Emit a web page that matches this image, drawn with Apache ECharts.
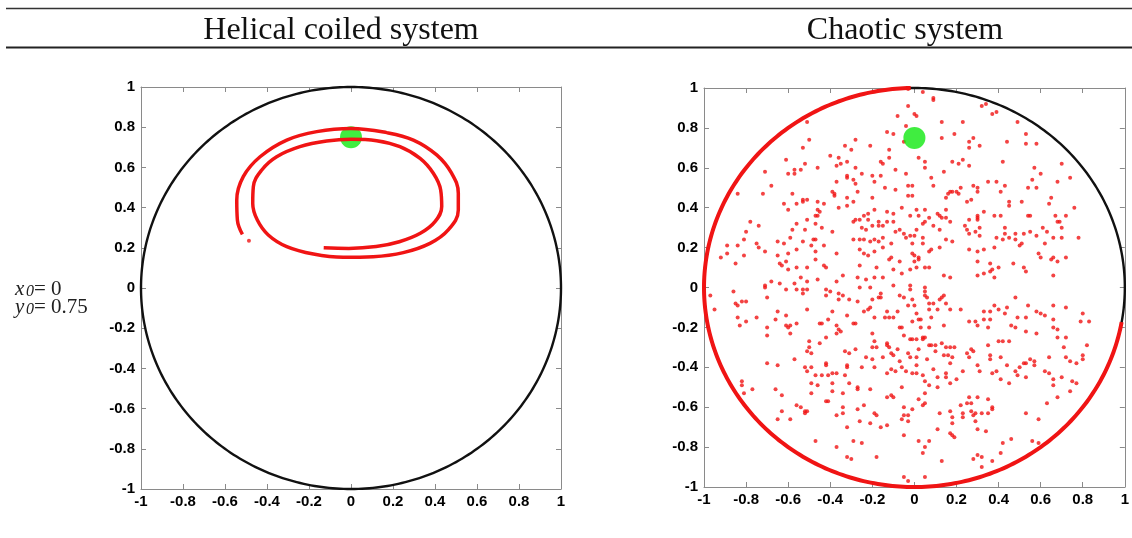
<!DOCTYPE html>
<html>
<head>
<meta charset="utf-8">
<script src="https://cdn.jsdelivr.net/npm/echarts@6/dist/echarts.min.js"></script>
<style>
  html, body { margin: 0; padding: 0; background: #fff; }
  #chart { width: 1132px; height: 538px; }
</style>
</head>
<body>
<div id="chart"></div>
<script>
// Two MATLAB-style phase portraits side by side: helical coil vs chaotic.
const panelTitles = ['Helical coiled system', 'Chaotic system'];
const initialX = 0;
const initialY = 0.75;
const startPoint = [initialX, initialY];

// unit circle boundary: [cx, cy, r, startDeg, endDeg]
const boundaryCircle = [[0, 0, 1, 0, 360]];
// part of the boundary covered by red points in the chaotic panel
const chaoticRingArc = [[0, 0, 1, 91, 350]];

// helical trajectory, in drawing order
const helicalPath = [
  [-0.13, 0.20], [-0.01, 0.197], [0.12, 0.206], [0.23, 0.23], [0.33, 0.272], [0.40, 0.33],
  [0.432, 0.405], [0.427, 0.488], [0.392, 0.571], [0.329, 0.645], [0.233, 0.703], [0.122, 0.733],
  [0.0, 0.74], [-0.116, 0.731], [-0.243, 0.703], [-0.354, 0.653], [-0.425, 0.587], [-0.465, 0.504],
  [-0.468, 0.421], [-0.446, 0.338], [-0.394, 0.264], [-0.306, 0.206], [-0.179, 0.169], [-0.037, 0.153],
  [0.106, 0.156], [0.249, 0.176], [0.376, 0.222], [0.463, 0.289], [0.511, 0.388], [0.511, 0.471],
  [0.479, 0.571], [0.408, 0.662], [0.297, 0.736], [0.17, 0.773], [0.0, 0.794], [-0.163, 0.778],
  [-0.306, 0.736], [-0.433, 0.653], [-0.513, 0.554], [-0.544, 0.438], [-0.541, 0.338], [-0.517, 0.267]
];
const helicalStray = [[-0.486, 0.235]];

// chaotic scatter, one array per quadrant
const chaoticUpperLeft = [
  [-0.03,0.995],[-0.03,0.91],[-0.08,0.86],[-0.04,0.81],[-0.10,0.77],[-0.13,0.78],[-0.05,0.73],[-0.51,0.83],
  [-0.50,0.74],[-0.53,0.70],[-0.33,0.71],[-0.28,0.74],[-0.21,0.71],[-0.12,0.69],[-0.30,0.69],[-0.40,0.66],
  [-0.36,0.65],[-0.61,0.64],[-0.52,0.62],[-0.54,0.59],[-0.57,0.59],[-0.57,0.57],[-0.60,0.57],[-0.46,0.60],
  [-0.37,0.61],[-0.35,0.62],[-0.32,0.63],[-0.28,0.60],[-0.25,0.57],[-0.20,0.56],[-0.16,0.63],[-0.15,0.62],
  [-0.12,0.65],[-0.09,0.59],[-0.04,0.57],[-0.16,0.56],[-0.32,0.56],[-0.32,0.55],[-0.29,0.54],[-0.28,0.52],
  [-0.19,0.53],[-0.37,0.53],[-0.27,0.48],[-0.39,0.48],[-0.38,0.47],[-0.38,0.46],[-0.20,0.45],[-0.14,0.50],
  [-0.09,0.49],[-0.03,0.51],[-0.03,0.46],[-0.71,0.58],[-0.68,0.51],[-0.72,0.47],[-0.84,0.47],[-0.58,0.47],
  [-0.53,0.44],[-0.51,0.44],[-0.53,0.43],[-0.56,0.42],[-0.62,0.42],[-0.60,0.39],[-0.46,0.43],[-0.43,0.42],
  [-0.46,0.39],[-0.45,0.38],[-0.47,0.36],[-0.46,0.36],[-0.32,0.45],[-0.29,0.43],[-0.36,0.40],[-0.32,0.41],
  [-0.19,0.39],[-0.22,0.37],[-0.13,0.38],[-0.10,0.37],[-0.06,0.40],[-0.02,0.36],[-0.78,0.33],[-0.80,0.28],
  [-0.74,0.31],[-0.81,0.24],[-0.84,0.21],[-0.89,0.21],[-0.89,0.17],[-0.92,0.15],[-0.85,0.12],[-0.81,0.16],
  [-0.75,0.22],[-0.74,0.20],[-0.71,0.18],[-0.65,0.23],[-0.62,0.22],[-0.56,0.32],[-0.58,0.29],[-0.59,0.25],
  [-0.52,0.29],[-0.51,0.34],[-0.47,0.32],[-0.44,0.30],[-0.48,0.24],[-0.47,0.24],[-0.53,0.23],[-0.49,0.21],
  [-0.43,0.21],[-0.39,0.28],[-0.47,0.18],[-0.56,0.19],[-0.60,0.17],[-0.64,0.12],[-0.65,0.16],[-0.63,0.11],
  [-0.61,0.13],[-0.60,0.09],[-0.56,0.10],[-0.51,0.10],[-0.47,0.14],[-0.43,0.11],[-0.42,0.10],[-0.37,0.17],
  [-0.29,0.33],[-0.28,0.34],[-0.26,0.34],[-0.24,0.36],[-0.22,0.34],[-0.25,0.30],[-0.23,0.29],[-0.20,0.31],
  [-0.17,0.33],[-0.17,0.31],[-0.15,0.31],[-0.13,0.33],[-0.10,0.33],[-0.09,0.28],[-0.07,0.29],[-0.05,0.27],
  [-0.04,0.25],[-0.02,0.26],[-0.29,0.24],[-0.26,0.24],[-0.24,0.24],[-0.21,0.23],[-0.19,0.24],[-0.17,0.23],
  [-0.15,0.25],[-0.11,0.22],[-0.15,0.20],[-0.26,0.19],[-0.24,0.17],[-0.22,0.16],[-0.19,0.18],[-0.12,0.14],
  [-0.11,0.15],[-0.07,0.13],[-0.01,0.17],[-0.02,0.09],[-0.10,0.09],[-0.18,0.10],[-0.26,0.11],[-0.23,0.04],
  [-0.27,0.05],[-0.34,0.06],[-0.37,0.03],[-0.46,0.04],[-0.54,0.05],[-0.57,0.02],[-0.64,0.02],[-0.68,0.03],
  [-0.71,0.01],[-0.51,0.03],[-0.15,0.05],[-0.06,0.07],[-0.19,0.05],[-0.10,0.01],[-0.02,0.01]
];
const chaoticUpperRight = [
  [0.04,0.98],[0.09,0.95],[0.09,0.94],[0.00,0.87],[0.01,0.86],[0.32,0.91],[0.34,0.92],[0.37,0.87],
  [0.39,0.88],[0.13,0.83],[0.23,0.83],[0.49,0.83],[0.13,0.75],[0.19,0.77],[0.26,0.73],[0.28,0.75],
  [0.26,0.70],[0.31,0.71],[0.44,0.73],[0.53,0.77],[0.53,0.72],[0.58,0.72],[0.02,0.65],[0.05,0.63],
  [0.05,0.60],[0.18,0.63],[0.21,0.62],[0.23,0.64],[0.26,0.61],[0.14,0.58],[0.42,0.63],[0.57,0.60],
  [0.60,0.57],[0.70,0.62],[0.68,0.53],[0.74,0.55],[0.56,0.54],[0.54,0.50],[0.58,0.50],[0.08,0.55],
  [0.09,0.51],[-0.01,0.51],[-0.01,0.46],[0.16,0.47],[0.17,0.48],[0.18,0.48],[0.15,0.45],[0.20,0.48],
  [0.21,0.47],[0.22,0.50],[0.28,0.51],[0.30,0.50],[0.30,0.48],[0.27,0.44],[0.25,0.43],[0.35,0.53],
  [0.39,0.53],[0.43,0.51],[0.41,0.48],[0.45,0.43],[0.45,0.41],[0.51,0.43],[0.65,0.45],[0.64,0.42],
  [0.76,0.40],[0.01,0.39],[0.05,0.39],[0.02,0.36],[0.07,0.35],[0.05,0.33],[0.04,0.32],[0.11,0.37],
  [0.12,0.36],[0.13,0.35],[0.15,0.39],[0.15,0.35],[0.17,0.33],[0.01,0.29],[0.09,0.31],[0.12,0.29],
  [0.26,0.34],[0.30,0.36],[0.30,0.35],[0.30,0.34],[0.33,0.38],[0.38,0.36],[0.41,0.36],[0.24,0.31],
  [0.25,0.29],[0.26,0.27],[0.31,0.30],[0.29,0.28],[0.31,0.26],[0.43,0.30],[0.48,0.27],[0.43,0.27],
  [0.54,0.36],[0.55,0.36],[0.61,0.30],[0.63,0.28],[0.67,0.36],[0.69,0.33],[0.68,0.33],[0.70,0.30],
  [0.72,0.36],[0.55,0.28],[0.52,0.27],[0.58,0.26],[0.66,0.25],[0.70,0.25],[0.78,0.25],[0.39,0.25],
  [0.42,0.24],[0.45,0.25],[0.48,0.24],[0.50,0.21],[0.51,0.22],[0.62,0.22],[0.00,0.26],[-0.01,0.22],
  [0.04,0.22],[0.04,0.25],[0.08,0.19],[0.07,0.18],[0.12,0.20],[0.15,0.24],[0.18,0.23],[0.26,0.19],
  [0.30,0.18],[0.33,0.19],[0.38,0.20],[0.00,0.16],[0.02,0.15],[0.02,0.14],[0.00,0.13],[0.01,0.10],
  [0.05,0.10],[0.07,0.10],[0.14,0.06],[0.17,0.05],[0.30,0.06],[0.33,0.07],[0.36,0.12],[0.36,0.08],
  [0.37,0.09],[0.40,0.10],[0.38,0.05],[0.30,0.13],[0.47,0.12],[0.52,0.10],[0.53,0.08],[0.59,0.17],
  [0.60,0.15],[0.65,0.14],[0.66,0.15],[0.68,0.13],[0.72,0.15],[0.66,0.06],[0.05,0.00]
];
const chaoticLowerLeft = [
  [-0.97,-0.04],[-0.95,-0.11],[-0.86,-0.02],[-0.85,-0.08],[-0.84,-0.09],[-0.82,-0.07],[-0.80,-0.07],[-0.84,-0.15],
  [-0.83,-0.19],[-0.80,-0.17],[-0.75,-0.15],[-0.71,0.00],[-0.70,-0.05],[-0.65,-0.12],[-0.66,-0.16],[-0.70,-0.20],
  [-0.70,-0.24],[-0.61,-0.14],[-0.61,-0.19],[-0.60,-0.20],[-0.59,-0.19],[-0.59,-0.23],[-0.61,-0.01],[-0.56,-0.01],
  [-0.53,-0.01],[-0.53,-0.03],[-0.51,-0.01],[-0.51,-0.11],[-0.56,-0.18],[-0.50,-0.27],[-0.50,-0.30],[-0.51,-0.32],
  [-0.49,-0.33],[-0.57,-0.36],[-0.52,-0.40],[-0.51,-0.42],[-0.49,-0.40],[-0.47,-0.44],[-0.49,-0.48],[-0.49,-0.53],
  [-0.70,-0.38],[-0.65,-0.39],[-0.82,-0.47],[-0.82,-0.49],[-0.81,-0.53],[-0.77,-0.51],[-0.66,-0.51],[-0.63,-0.54],
  [-0.63,-0.62],[-0.65,-0.66],[-0.59,-0.66],[-0.56,-0.59],[-0.54,-0.60],[-0.52,-0.62],[-0.52,-0.63],[-0.51,-0.62],
  [-0.47,-0.77],[-0.42,-0.01],[-0.40,-0.02],[-0.42,-0.04],[-0.36,-0.03],[-0.36,-0.06],[-0.34,-0.04],[-0.31,-0.06],
  [-0.39,-0.12],[-0.45,-0.18],[-0.44,-0.18],[-0.41,-0.16],[-0.42,-0.25],[-0.45,-0.28],[-0.37,-0.19],[-0.36,-0.21],
  [-0.35,-0.22],[-0.37,-0.23],[-0.32,-0.14],[-0.29,-0.18],[-0.28,-0.18],[-0.33,-0.32],[-0.31,-0.33],[-0.28,-0.31],
  [-0.42,-0.38],[-0.42,-0.39],[-0.44,-0.44],[-0.41,-0.44],[-0.39,-0.43],[-0.37,-0.43],[-0.33,-0.44],[-0.32,-0.40],
  [-0.32,-0.39],[-0.46,-0.49],[-0.42,-0.57],[-0.41,-0.57],[-0.39,-0.48],[-0.39,-0.52],[-0.34,-0.53],[-0.31,-0.48],
  [-0.34,-0.60],[-0.34,-0.63],[-0.37,-0.64],[-0.32,-0.70],[-0.37,-0.80],[-0.32,-0.85],[-0.30,-0.86],[-0.29,-0.77],
  [-0.25,-0.78],[-0.27,-0.50],[-0.27,-0.51],[-0.25,-0.40],[-0.27,-0.61],[-0.26,-0.67],[-0.24,-0.59],[-0.21,-0.68],
  [-0.19,-0.63],[-0.18,-0.64],[-0.21,-0.51],[-0.23,-0.35],[-0.20,-0.36],[-0.19,-0.40],[-0.20,-0.23],[-0.19,-0.27],
  [-0.20,-0.30],[-0.18,-0.30],[-0.19,-0.15],[-0.24,-0.12],[-0.22,-0.11],[-0.21,-0.10],[-0.20,-0.06],[-0.17,-0.05],
  [-0.16,-0.05],[-0.27,-0.07],[-0.26,0.00],[-0.21,0.00],[-0.16,-0.03],[-0.14,-0.15],[-0.13,-0.12],[-0.12,-0.15],
  [-0.10,-0.15],[-0.08,-0.12],[-0.06,-0.20],[-0.07,-0.20],[-0.15,-0.35],[-0.13,-0.28],[-0.13,-0.29],[-0.12,-0.30],
  [-0.11,-0.33],[-0.10,-0.34],[-0.08,-0.31],[-0.07,-0.37],[-0.02,-0.35],[-0.03,-0.33],[-0.13,-0.43],[-0.11,-0.41],
  [-0.09,-0.42],[-0.06,-0.40],[-0.04,-0.42],[-0.01,-0.43],[-0.13,-0.55],[-0.11,-0.54],[-0.10,-0.55],[-0.06,-0.50],
  [-0.05,-0.60],[-0.05,-0.64],[-0.03,-0.64],[-0.06,-0.66],[-0.03,-0.67],[-0.16,-0.70],[-0.13,-0.69],[-0.05,-0.74],
  [-0.18,-0.85],[-0.05,-0.95],[-0.03,-0.97],[-0.05,-0.24],[-0.02,-0.26],[-0.03,-0.09],[-0.01,-0.06],[-0.05,-0.05],
  [-0.07,-0.04],[-0.02,-0.01]
];
const chaoticLowerRight = [
  [0.05,-0.02],[0.05,-0.04],[0.06,-0.05],[0.00,-0.09],[0.01,-0.13],[-0.01,-0.17],[0.02,-0.16],[0.07,-0.08],
  [0.09,-0.08],[0.12,-0.06],[0.13,-0.05],[0.14,-0.04],[0.15,-0.08],[0.17,-0.11],[0.11,-0.11],[0.07,-0.11],
  [0.08,-0.15],[0.03,-0.16],[0.03,-0.20],[0.04,-0.25],[-0.01,-0.26],[0.01,-0.26],[0.04,-0.26],[0.05,-0.25],
  [0.07,-0.20],[0.08,-0.29],[0.10,-0.29],[0.13,-0.28],[0.15,-0.30],[0.17,-0.30],[0.19,-0.30],[0.14,-0.19],
  [0.22,-0.11],[0.26,-0.17],[0.29,-0.17],[0.30,-0.19],[0.33,-0.12],[0.33,-0.16],[0.36,-0.16],[0.38,-0.09],
  [0.40,-0.11],[0.44,-0.10],[0.43,-0.13],[0.36,-0.12],[0.35,-0.20],[0.48,-0.05],[0.54,-0.09],[0.49,-0.15],
  [0.53,-0.15],[0.46,-0.19],[0.48,-0.20],[0.53,-0.22],[0.58,-0.23],[0.58,-0.12],[0.60,-0.13],[0.62,-0.14],
  [0.66,-0.16],[0.66,-0.20],[0.68,-0.21],[0.66,-0.09],[0.72,-0.10],[0.80,-0.13],[0.79,-0.17],[0.83,-0.17],
  [0.71,-0.30],[0.82,-0.29],[0.07,-0.29],[0.10,-0.32],[0.01,-0.35],[0.06,-0.36],[0.02,-0.31],[0.09,-0.41],
  [0.14,-0.34],[0.16,-0.34],[0.18,-0.35],[0.17,-0.38],[0.01,-0.43],[0.01,-0.39],[0.04,-0.44],[0.05,-0.47],
  [0.07,-0.49],[0.11,-0.45],[0.11,-0.50],[0.15,-0.43],[0.15,-0.45],[0.17,-0.48],[0.20,-0.46],[0.23,-0.42],
  [0.25,-0.33],[0.26,-0.35],[0.27,-0.31],[0.28,-0.32],[0.31,-0.42],[0.30,-0.39],[0.35,-0.29],[0.36,-0.34],
  [0.36,-0.36],[0.37,-0.43],[0.39,-0.42],[0.40,-0.27],[0.42,-0.27],[0.45,-0.27],[0.41,-0.35],[0.41,-0.46],
  [0.44,-0.39],[0.45,-0.48],[0.48,-0.42],[0.49,-0.44],[0.50,-0.40],[0.52,-0.38],[0.53,-0.38],[0.55,-0.36],
  [0.57,-0.37],[0.57,-0.39],[0.53,-0.45],[0.62,-0.42],[0.64,-0.35],[0.64,-0.43],[0.66,-0.46],[0.66,-0.49],
  [0.68,-0.55],[0.63,-0.58],[0.70,-0.45],[0.74,-0.52],[0.75,-0.47],[0.77,-0.48],[0.72,-0.35],[0.74,-0.37],
  [0.77,-0.38],[0.80,-0.36],[0.80,-0.34],[0.72,-0.25],[0.68,-0.25],[-0.01,-0.61],[0.02,-0.56],[0.04,-0.59],
  [0.05,-0.58],[0.05,-0.53],[0.02,-0.77],[0.05,-0.80],[0.07,-0.77],[0.04,-0.83],[0.05,-0.95],[0.11,-0.71],
  [0.12,-0.63],[0.13,-0.87],[0.17,-0.62],[0.18,-0.65],[0.18,-0.68],[0.17,-0.73],[0.18,-0.74],[0.19,-0.75],
  [0.22,-0.59],[0.23,-0.63],[0.23,-0.65],[0.25,-0.58],[0.26,-0.55],[0.27,-0.58],[0.27,-0.62],[0.28,-0.64],
  [0.29,-0.63],[0.30,-0.55],[0.29,-0.67],[0.30,-0.71],[0.32,-0.63],[0.35,-0.56],[0.35,-0.63],[0.37,-0.60],
  [0.37,-0.61],[0.34,-0.72],[0.28,-0.86],[0.30,-0.84],[0.32,-0.85],[0.32,-0.90],[0.37,-0.87],[0.41,-0.83],
  [0.42,-0.78],[0.46,-0.76],[0.53,-0.63],[0.59,-0.66],[0.56,-0.77],[0.59,-0.78]
];

const RED = '#f01414';
const GREEN = '#10e810';
const FRAME = '#8a8a8a';
const TICK_FONT = "'Liberation Sans', Arial, sans-serif";
const SERIF = "'Liberation Serif', 'Times New Roman', serif";

// draws an arc of a circle given in data units, through the axis scales
function arcRenderer(width) {
  return function (params, api) {
    const cx = api.value(0), cy = api.value(1), r = api.value(2);
    const a0 = api.value(3), a1 = api.value(4);
    const pts = [];
    for (let a = a0; a <= a1; a += 1) {
      const t = a * Math.PI / 180;
      pts.push(api.coord([cx + r * Math.cos(t), cy + r * Math.sin(t)]));
    }
    return {
      type: 'polyline',
      shape: { points: pts },
      style: { stroke: api.visual('color'), lineWidth: width, fill: null }
    };
  };
}

const grids = [
  { left: 141, top: 87, width: 420, height: 402 },
  { left: 704, top: 88, width: 421, height: 399 }
];

function axisBase(gridIndex) {
  return {
    gridIndex, type: 'value', min: -1, max: 1, interval: 0.2,
    splitLine: { show: false },
    axisLine: { onZero: false, lineStyle: { color: FRAME, width: 1 } },
    axisTick: { inside: true, length: 5, lineStyle: { color: FRAME } }
  };
}
const tickLabel = { color: '#000', fontWeight: 'bold', fontSize: 15, fontFamily: TICK_FONT };

function xAxisPair(gridIndex) {
  return [
    Object.assign(axisBase(gridIndex), { position: 'bottom', axisLabel: Object.assign({ margin: 5 }, tickLabel) }),
    Object.assign(axisBase(gridIndex), { position: 'top', axisLabel: { show: false } })
  ];
}
function yAxisPair(gridIndex) {
  return [
    Object.assign(axisBase(gridIndex), { position: 'left', axisLabel: Object.assign({ margin: 6 }, tickLabel) }),
    Object.assign(axisBase(gridIndex), { position: 'right', axisLabel: { show: false } })
  ];
}

const chaoticAll = [].concat(chaoticUpperLeft, chaoticUpperRight, chaoticLowerLeft, chaoticLowerRight);

const option = {
  backgroundColor: '#fff',
  animation: false,
  grid: grids,
  xAxis: [].concat(xAxisPair(0), xAxisPair(1)),
  yAxis: [].concat(yAxisPair(0), yAxisPair(1)),
  graphic: [
    { type: 'line', shape: { x1: 6, y1: 8.5, x2: 1132, y2: 8.5 }, style: { stroke: '#333', lineWidth: 1.5 } },
    { type: 'line', shape: { x1: 6, y1: 47.5, x2: 1132, y2: 47.5 }, style: { stroke: '#222', lineWidth: 2 } },
    { type: 'text', x: 341, y: 31, style: { text: panelTitles[0], font: '32px ' + SERIF, fill: '#111', align: 'center', verticalAlign: 'middle' } },
    { type: 'text', x: 905, y: 31, style: { text: panelTitles[1], font: '32px ' + SERIF, fill: '#111', align: 'center', verticalAlign: 'middle' } },
    { type: 'text', x: 15, y: 289, style: { text: 'x', font: 'italic 21px ' + SERIF, fill: '#222', verticalAlign: 'middle' } },
    { type: 'text', x: 26, y: 292, style: { text: '0', font: 'italic 16px ' + SERIF, fill: '#222', verticalAlign: 'middle' } },
    { type: 'text', x: 34, y: 289, style: { text: '= ' + initialX, font: '21px ' + SERIF, fill: '#222', verticalAlign: 'middle' } },
    { type: 'text', x: 15, y: 307, style: { text: 'y', font: 'italic 21px ' + SERIF, fill: '#222', verticalAlign: 'middle' } },
    { type: 'text', x: 26, y: 310, style: { text: '0', font: 'italic 16px ' + SERIF, fill: '#222', verticalAlign: 'middle' } },
    { type: 'text', x: 34, y: 307, style: { text: '= ' + initialY, font: '21px ' + SERIF, fill: '#222', verticalAlign: 'middle' } }
  ],
  series: [
    // left panel
    { type: 'custom', xAxisIndex: 0, yAxisIndex: 0, data: boundaryCircle, clip: false, z: 2,
      itemStyle: { color: '#111' }, renderItem: arcRenderer(2.4) },
    { type: 'scatter', xAxisIndex: 0, yAxisIndex: 0, data: [startPoint], symbolSize: 22, z: 3,
      itemStyle: { color: GREEN } },
    { type: 'line', xAxisIndex: 0, yAxisIndex: 0, data: helicalPath, smooth: 0.4, showSymbol: false, z: 4,
      lineStyle: { color: RED, width: 3.5 } },
    { type: 'scatter', xAxisIndex: 0, yAxisIndex: 0, data: helicalStray, symbolSize: 4, z: 4,
      itemStyle: { color: RED } },
    // right panel
    { type: 'custom', xAxisIndex: 2, yAxisIndex: 2, data: boundaryCircle, clip: false, z: 2,
      itemStyle: { color: '#111' }, renderItem: arcRenderer(2.4) },
    { type: 'custom', xAxisIndex: 2, yAxisIndex: 2, data: chaoticRingArc, clip: false, z: 3,
      itemStyle: { color: RED }, renderItem: arcRenderer(4) },
    { type: 'scatter', xAxisIndex: 2, yAxisIndex: 2, data: chaoticAll, symbolSize: 4, z: 4,
      itemStyle: { color: RED } },
    { type: 'scatter', xAxisIndex: 2, yAxisIndex: 2, data: [startPoint], symbolSize: 22, z: 5,
      itemStyle: { color: GREEN } }
  ]
};

const chart = echarts.init(document.getElementById('chart'), null, { renderer: 'canvas' });
chart.setOption(option);
</script>
</body>
</html>
